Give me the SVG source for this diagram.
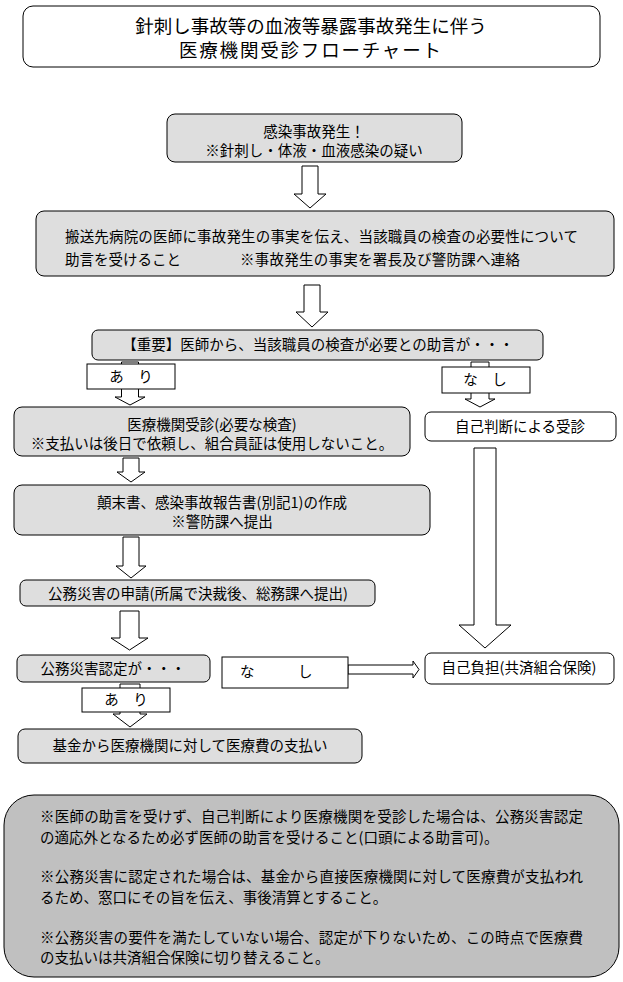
<svg xmlns="http://www.w3.org/2000/svg" width="623" height="982" viewBox="0 0 623 982">
<style>
.box{stroke:#000;stroke-width:1;}
.g{fill:#dedede;}
.w{fill:#fff;}
.note{fill:#c0c0c0;stroke:#000;stroke-width:1;}
.arr{fill:#fff;stroke:#000;stroke-width:1;}
text{font-family:"Noto Sans CJK JP","Noto Sans",sans-serif;font-size:14.5px;fill:#000;}
.c{text-anchor:middle;}
.t{font-size:18.5px;}
</style>
<rect width="623" height="982" fill="#fff"/>
<g id="connectors">
<polygon class="arr" points="302,166 318,166 318,194 326,194 310,208 294,194 302,194"/>
<polygon class="arr" points="304,285 320,285 320,312 328,312 312,327 296,312 304,312"/>
<polygon class="arr" points="121.5,362 138.5,362 138.5,397 145,397 130,405 115,397 121.5,397"/>
<polygon class="arr" points="471,362 489,362 489,399 495,399 480,407 465,399 471,399"/>
<polygon class="arr" points="474,448 496,448 496,625 511,625 485,648 459,625 474,625"/>
<polygon class="arr" points="123,458 139,458 139,472 145,472 131,482 117,472 123,472"/>
<polygon class="arr" points="123,537 139,537 139,566 146,566 131,578 116,566 123,566"/>
<polygon class="arr" points="120,611 139,611 139,638 148,638 129.5,650 111,638 120,638"/>
<polygon class="arr" points="120,684 140,684 140,714 147,714 130,727 113,714 120,714"/>
<polygon class="arr" points="348,665 413,665 413,661 419,669.5 413,678 413,674 348,674"/>
</g>
<g id="title">
<rect class="box w" x="23" y="6" width="577" height="61" rx="10"/>
<text class="c t" x="311" y="33">針刺し事故等の血液等暴露事故発生に伴う</text>
<text class="t" x="179" y="57" textLength="262" lengthAdjust="spacing">医療機関受診フローチャート</text>
</g>
<g id="n1">
<rect class="box g" x="167" y="114" width="295" height="48" rx="8"/>
<text class="c" x="314" y="137">感染事故発生！</text>
<text class="c" x="314" y="156">※針刺し・体液・血液感染の疑い</text>
</g>
<g id="n2">
<rect class="box g" x="36" y="211" width="578" height="65" rx="8"/>
<text x="65" y="242" textLength="513" lengthAdjust="spacing">搬送先病院の医師に事故発生の事実を伝え、当該職員の検査の必要性について</text>
<text x="65" y="265">助言を受けること</text>
<text x="240" y="265" textLength="280" lengthAdjust="spacing">※事故発生の事実を署長及び警防課へ連絡</text>
</g>
<g id="n3">
<rect class="box g" x="92" y="330" width="451" height="30" rx="6"/>
<text class="c" x="318" y="350">【重要】医師から、当該職員の検査が必要との助言が・・・</text>
</g>
<g id="l-ari1">
<rect class="box w" x="87" y="364" width="88" height="25"/>
<text class="c" x="131" y="382">あ　り</text>
</g>
<g id="l-nashi1">
<rect class="box w" x="442" y="367" width="88" height="26"/>
<text class="c" x="485" y="385">な　し</text>
</g>
<g id="n4">
<rect class="box g" x="14" y="407" width="396" height="49" rx="8"/>
<text class="c" x="212" y="430">医療機関受診(必要な検査)</text>
<text class="c" x="212" y="449">※支払いは後日で依頼し、組合員証は使用しないこと。</text>
</g>
<g id="n5">
<rect class="box w" x="425" y="412" width="191" height="29" rx="6"/>
<text class="c" x="520" y="432">自己判断による受診</text>
</g>
<g id="n6">
<rect class="box g" x="14" y="485" width="416" height="50" rx="8"/>
<text class="c" x="222" y="508">顛末書、感染事故報告書(別記1)の作成</text>
<text class="c" x="222" y="527">※警防課へ提出</text>
</g>
<g id="n7">
<rect class="box g" x="20" y="580" width="355" height="26" rx="6"/>
<text class="c" x="198" y="599">公務災害の申請(所属で決裁後、総務課へ提出)</text>
</g>
<g id="n8">
<rect class="box g" x="17" y="655" width="193" height="27" rx="6"/>
<text class="c" x="113" y="674">公務災害認定が・・・</text>
</g>
<g id="l-nashi2">
<rect class="box w" x="222" y="657" width="126" height="31"/>
<text x="240" y="677">な　　　し</text>
</g>
<g id="n9">
<rect class="box w" x="425" y="653" width="189" height="31" rx="6"/>
<text class="c" x="519" y="673">自己負担(共済組合保険)</text>
</g>
<g id="l-ari2">
<rect class="box w" x="82" y="688" width="88" height="24"/>
<text class="c" x="126" y="705">あ　り</text>
</g>
<g id="n10">
<rect class="box g" x="18" y="729" width="344" height="34" rx="7"/>
<text class="c" x="190" y="751">基金から医療機関に対して医療費の支払い</text>
</g>
<g id="note">
<rect class="note" x="4" y="795" width="615" height="182" rx="30"/>
<text x="40" y="822" textLength="543" lengthAdjust="spacing">※医師の助言を受けず、自己判断により医療機関を受診した場合は、公務災害認定</text>
<text x="40" y="843">の適応外となるため必ず医師の助言を受けること(口頭による助言可)。</text>
<text x="40" y="882" textLength="543" lengthAdjust="spacing">※公務災害に認定された場合は、基金から直接医療機関に対して医療費が支払われ</text>
<text x="40" y="903">るため、窓口にその旨を伝え、事後清算とすること。</text>
<text x="40" y="943" textLength="543" lengthAdjust="spacing">※公務災害の要件を満たしていない場合、認定が下りないため、この時点で医療費</text>
<text x="40" y="963">の支払いは共済組合保険に切り替えること。</text>
</g>
</svg>
